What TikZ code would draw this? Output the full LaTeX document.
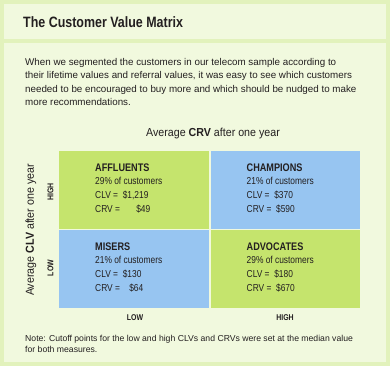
\documentclass[tikz,border=0pt]{standalone}
\usepackage{fontspec}
\setmainfont{Liberation Sans}
\newfontfamily\narrowfont{Liberation Sans}[FakeStretch=0.83]
\newfontfamily\semifont{Liberation Sans}[FakeStretch=0.92]
\usetikzlibrary{positioning}

\definecolor{outergreen}{HTML}{E2F2BC}
\definecolor{panelgreen}{HTML}{F1F9DE}
\definecolor{cellgreen}{HTML}{C5E46D}
\definecolor{cellblue}{HTML}{97C5F1}
\definecolor{inkgray}{HTML}{231F20}

\tikzset{
  panel/.style={fill=panelgreen},
  quadrant/.style={minimum width=149.5pt, minimum height=77.5pt, inner sep=0pt, anchor=north west},
  quadtext/.style={below right=12.5pt and 36pt of #1.north west, align=left, inner sep=0pt,
    font=\narrowfont\fontsize{10.1}{13.6}\selectfont},
  axislabel/.style={font=\semifont\fontsize{11.6}{13}\selectfont},
  ticklabel/.style={font=\narrowfont\bfseries\fontsize{8.4}{10}\selectfont},
}

\begin{document}
\begin{tikzpicture}[x=1pt, y=-1pt, inkgray]
	% background and the two panels
	\fill[outergreen] (0,0) rectangle (390,366);
	\fill[panel] (4,4) rectangle (386,39);
	\fill[panel] (4,43) rectangle (386,362);

	\node[anchor=base west, inner sep=0pt, font=\narrowfont\bfseries\fontsize{15}{18}\selectfont] (title) at (23,28) {The Customer Value Matrix};

	\node[anchor=north west, inner sep=0pt, align=left, font=\fontsize{9.8}{13.4}\selectfont] (intro) at (25,58)
		{When we segmented the customers in our telecom sample according to\\
		their lifetime values and referral values, it was easy to see which customers\\
		needed to be encouraged to buy more and which should be nudged to make\\
		more recommendations.};

	% the four quadrants
	\node[quadrant, fill=cellgreen] (affluents) at (59,151) {};
	\node[quadrant, fill=cellblue] (champions) at (210.5,151) {};
	\node[quadrant, fill=cellblue] (misers) at (59,230) {};
	\node[quadrant, fill=cellgreen] (advocates) at (210.5,230) {};

	\node[quadtext=affluents] (affluentstxt)
		{{\bfseries\fontsize{11}{13.6}\selectfont AFFLUENTS}\\29\% of customers\\
		CLV = \makebox[28pt][r]{\$1,219}\\CRV = \makebox[28pt][r]{\$49}};
	\node[quadtext=champions] (championstxt)
		{{\bfseries\fontsize{11}{13.6}\selectfont CHAMPIONS}\\21\% of customers\\
		CLV = \makebox[21pt][r]{\$370}\\CRV = \makebox[21pt][r]{\$590}};
	\node[quadtext=misers] (miserstxt)
		{{\bfseries\fontsize{11}{13.6}\selectfont MISERS}\\21\% of customers\\
		CLV = \makebox[21pt][r]{\$130}\\CRV = \makebox[21pt][r]{\$64}};
	\node[quadtext=advocates] (advocatestxt)
		{{\bfseries\fontsize{11}{13.6}\selectfont ADVOCATES}\\29\% of customers\\
		CLV = \makebox[21pt][r]{\$180}\\CRV = \makebox[21pt][r]{\$670}};

	% axes
	\node[axislabel] (crvaxis) at (213,134) {Average \textbf{CRV} after one year};
	\node[axislabel, rotate=90] (clvaxis) at (31,230) {Average \textbf{CLV} after one year};
	\node[ticklabel] (crvlow) at (135,318) {LOW};
	\node[ticklabel] (crvhigh) at (285,318) {HIGH};
	\node[ticklabel, rotate=90] (clvhigh) at (50.5,192) {HIGH};
	\node[ticklabel, rotate=90] (clvlow) at (50.5,268) {LOW};

	\node[anchor=north west, inner sep=0pt, align=left, font=\fontsize{8.65}{11}\selectfont] (note) at (25,335)
		{Note: Cutoff points for the low and high CLVs and CRVs were set at the median value\\
		for both measures.};
\end{tikzpicture}
\end{document}
